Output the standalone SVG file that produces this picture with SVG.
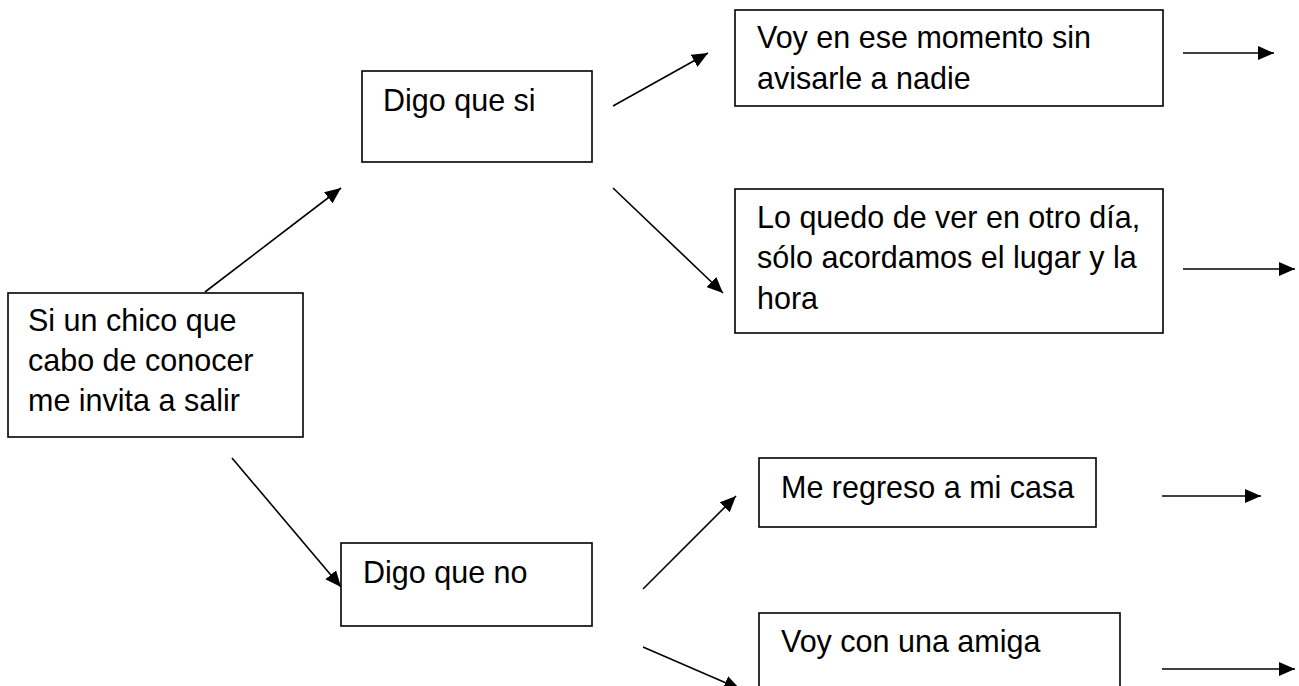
<svg xmlns="http://www.w3.org/2000/svg" width="1299" height="686" viewBox="0 0 1299 686">
  <style>
    .box { fill: #ffffff; stroke: #000000; stroke-width: 1.6; }
    .lbl { font-family: "Liberation Sans", Arial, sans-serif; font-size: 30.5px; fill: #000000; }
    .conn { stroke: #000000; stroke-width: 1.6; fill: none; marker-end: url(#arrow); }
  </style>
  <defs>
    <marker id="arrow" markerUnits="userSpaceOnUse" markerWidth="16" markerHeight="14" refX="16" refY="7" orient="auto">
      <path d="M0,0 L16,7 L0,14 z" fill="#000000"/>
    </marker>
  </defs>
  <rect width="1299" height="686" fill="#ffffff"/>

  <g id="connectors">
    <line class="conn" x1="205" y1="292" x2="341" y2="188"/>
    <line class="conn" x1="232" y1="458" x2="341" y2="587"/>
    <line class="conn" x1="613" y1="106" x2="708" y2="53"/>
    <line class="conn" x1="613" y1="188" x2="723" y2="293"/>
    <line class="conn" x1="643" y1="589" x2="736" y2="496"/>
    <line class="conn" x1="643" y1="647" x2="740" y2="689"/>
    <line class="conn" x1="1183" y1="53" x2="1274" y2="53"/>
    <line class="conn" x1="1183" y1="269" x2="1295" y2="269"/>
    <line class="conn" x1="1162" y1="496" x2="1261" y2="496"/>
    <line class="conn" x1="1162" y1="669" x2="1295" y2="669"/>
  </g>

  <g id="node-main">
    <rect class="box" x="8" y="293" width="295" height="144"/>
    <text class="lbl" x="28" y="331">Si un chico que</text>
    <text class="lbl" x="28" y="371">cabo de conocer</text>
    <text class="lbl" x="28" y="411">me invita a salir</text>
  </g>

  <g id="node-si">
    <rect class="box" x="362" y="71" width="230" height="91"/>
    <text class="lbl" x="383" y="111">Digo que si</text>
  </g>

  <g id="node-no">
    <rect class="box" x="341" y="543" width="251" height="83"/>
    <text class="lbl" x="363" y="583">Digo que no</text>
  </g>

  <g id="node-voy-ese">
    <rect class="box" x="735" y="10" width="428" height="96"/>
    <text class="lbl" x="757" y="48">Voy en ese momento sin</text>
    <text class="lbl" x="757" y="89">avisarle a nadie</text>
  </g>

  <g id="node-quedo">
    <rect class="box" x="735" y="189" width="428" height="144"/>
    <text class="lbl" x="757" y="228">Lo quedo de ver en otro día,</text>
    <text class="lbl" x="757" y="268">sólo acordamos el lugar y la</text>
    <text class="lbl" x="757" y="309">hora</text>
  </g>

  <g id="node-regreso">
    <rect class="box" x="759" y="458" width="337" height="69"/>
    <text class="lbl" x="781" y="498">Me regreso a mi casa</text>
  </g>

  <g id="node-amiga">
    <rect class="box" x="759" y="613" width="361" height="90"/>
    <text class="lbl" x="781" y="652">Voy con una amiga</text>
  </g>
</svg>
